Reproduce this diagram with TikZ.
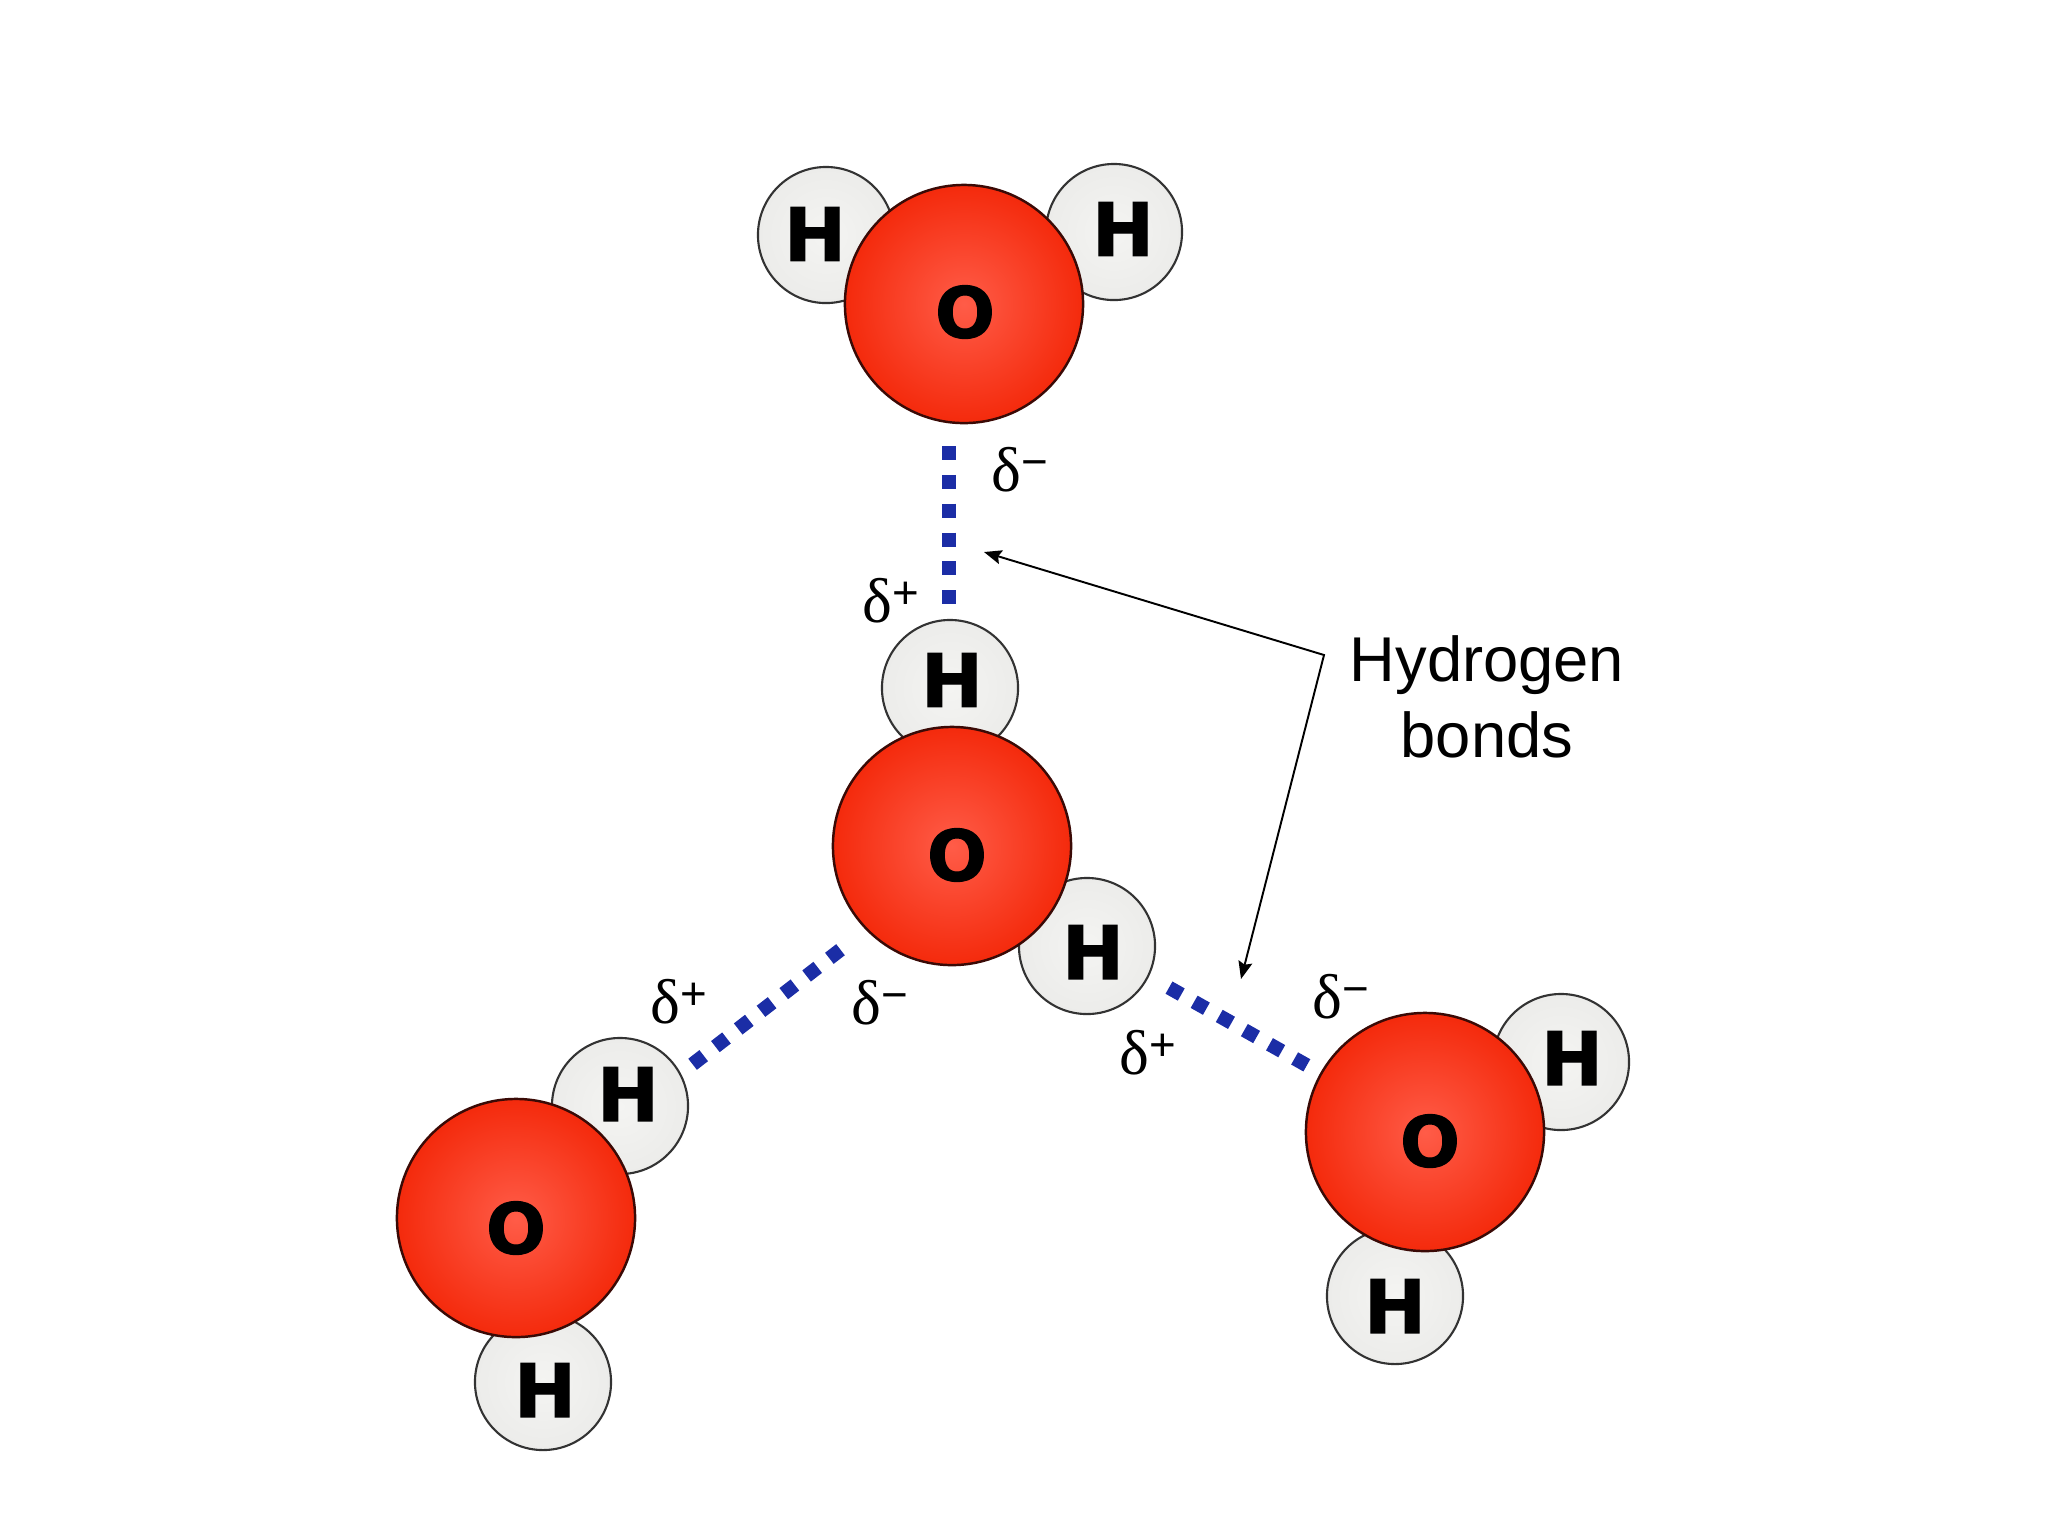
\documentclass[tikz,border=0pt]{standalone}
\usepackage{fontspec}
\setmainfont{Liberation Sans}
\newfontfamily\atomfont[BoldFeatures={FakeBold=1.5}]{DejaVu Sans}
\newfontfamily\deltafont{Liberation Serif}
\usepackage{xcolor}
\usetikzlibrary{arrows.meta}
\definecolor{oxyin}{HTML}{FF5C48}
\definecolor{oxyout}{HTML}{F42A0C}
\definecolor{oxyline}{HTML}{3A0A06}
\definecolor{hydin}{HTML}{F4F4F2}
\definecolor{hydout}{HTML}{ECECEA}
\definecolor{bondblue}{HTML}{1B2DA6}
\newcommand{\partq}[1]{{\deltafont\fontsize{18}{18}\selectfont δ}\raisebox{0.42em}{\fontsize{13}{13}\selectfont #1}}
\tikzset{
oatom/.style={circle,draw=oxyline,line width=0.7pt,minimum size=2.38cm,inner sep=0pt,inner color=oxyin,outer color=oxyout},
hatom/.style={circle,draw=black!80,line width=0.6pt,minimum size=1.36cm,inner sep=0pt,inner color=hydin,outer color=hydout},
hletter/.style={inner sep=0pt,font=\atomfont\bfseries\fontsize{21}{21}\selectfont},
oletter/.style={inner sep=0pt,font=\atomfont\bfseries\fontsize{20}{20}\selectfont},
hbond/.style={draw=bondblue,line width=4pt,dash pattern=on 4pt off 4.2pt},
charge/.style={inner sep=0pt},
callout/.style={line width=0.55pt,{Stealth[length=5pt,width=4pt,inset=0.8pt]}-{Stealth[length=5pt,width=4pt,inset=0.8pt]}}
}

\begin{document}
\begin{tikzpicture}[x=0.01cm,y=-0.01cm]
\useasboundingbox (0,0) rectangle (2048,1535);
% top molecule
\node[hatom] (Htl) at (826,235) {};
\node[hatom] (Htr) at (1114,232) {};
\node[oatom] (Otop) at (964,304) {};
\node[hletter] (lHtl) at (815,234) {H};
\node[hletter] (lHtr) at (1123,229) {H};
\node[oletter] (lOtop) at (965,312) {O};
% middle molecule
\node[hatom] (Hmt) at (950,688) {};
\node[hatom] (Hmr) at (1087,946) {};
\node[oatom] (Omid) at (952,846) {};
\node[hletter] (lHmt) at (952,680) {H};
\node[hletter] (lHmr) at (1093,952) {H};
\node[oletter] (lOmid) at (957,855) {O};
% left molecule
\node[hatom] (Hlt) at (620,1106) {};
\node[hatom] (Hlb) at (543,1382) {};
\node[oatom] (Oleft) at (516,1218) {};
\node[hletter] (lHlt) at (628,1094) {H};
\node[hletter] (lHlb) at (545,1390) {H};
\node[oletter] (lOleft) at (516,1228) {O};
% right molecule
\node[hatom] (Hrt) at (1561,1062) {};
\node[hatom] (Hrb) at (1395,1296) {};
\node[oatom] (Oright) at (1425,1132) {};
\node[hletter] (lHrt) at (1572,1058) {H};
\node[hletter] (lHrb) at (1395,1306) {H};
\node[oletter] (lOright) at (1430,1141) {O};
% bond ends
\coordinate (btop) at (949,446);
\coordinate (bmid) at (949,605);
\coordinate (bla) at (840.5,949.7);
\coordinate (blb) at (692.5,1064.3);
\coordinate (bra) at (1169,987.6);
\coordinate (brb) at (1307,1065.4);
\draw[hbond] (btop) -- (bmid);
\draw[hbond] (bla) -- (blb);
\draw[hbond] (bra) -- (brb);
% charges
\node[charge] (dtm) at (1020,470) {\partq{−}};
\node[charge] (dmp) at (891,601) {\partq{+}};
\node[charge] (dlp) at (679,1002) {\partq{+}};
\node[charge] (dlm) at (880,1003) {\partq{−}};
\node[charge] (drp) at (1148,1053) {\partq{+}};
\node[charge] (drm) at (1341,997) {\partq{−}};
% label and arrows
\node[align=center,font=\fontsize{18}{21.6}\selectfont] (hlabel) at (1487,697) {Hydrogen\\bonds};
\coordinate (tipa) at (984,552);
\coordinate (elbow) at (1324,655);
\coordinate (tipb) at (1241,979);
\draw[callout] (tipa) -- (elbow) -- (tipb);
\end{tikzpicture}
\end{document}
